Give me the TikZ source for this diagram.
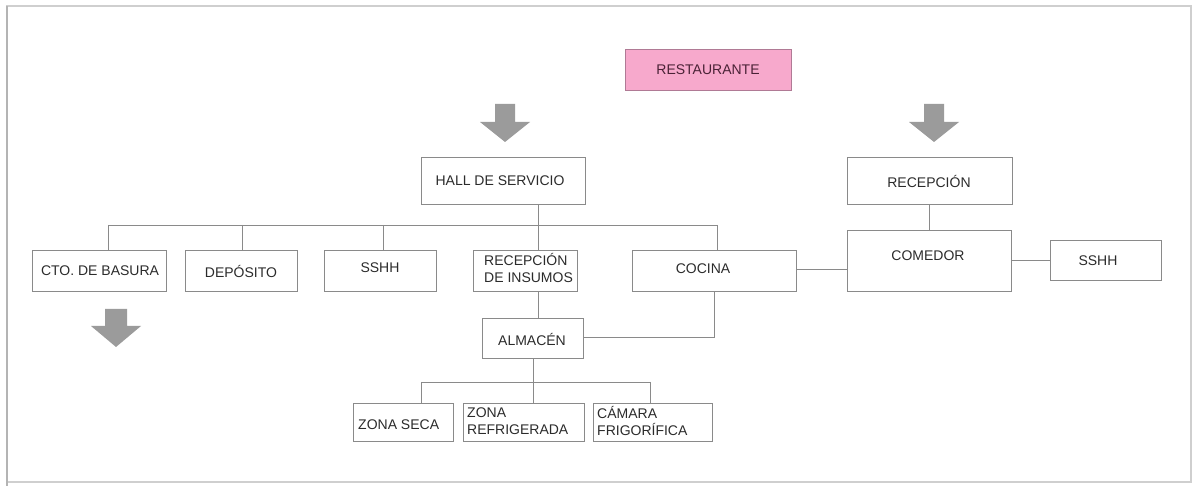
\documentclass[tikz,border=0pt]{standalone}
\usepackage{fontspec}
\setmainfont{Liberation Sans}
\usetikzlibrary{fit}
\definecolor{boxgray}{HTML}{8A8A8A}
\definecolor{linegray}{HTML}{8A8A8A}
\definecolor{txtgray}{HTML}{2B2B2B}
\definecolor{pinkfill}{HTML}{F7A9CC}
\definecolor{pinkdraw}{HTML}{B07A95}
\definecolor{pinktxt}{HTML}{4A2236}
\definecolor{arrowgray}{HTML}{9B9B9B}
\definecolor{framegray}{HTML}{CFCFCF}
\definecolor{frameleft}{HTML}{B4B4B4}
\begin{document}
\begin{tikzpicture}[x=1pt,y=-1pt,
  box/.style={draw=boxgray, line width=0.8pt, inner sep=0pt},
  conn/.style={draw=linegray, line width=0.8pt},
  txt/.style={text=txtgray, font=\fontsize{14}{17}\selectfont, inner sep=0pt, align=left},
  bigarrow/.style={fill=arrowgray}]
\useasboundingbox (0,0) rectangle (1200,486);
% frame
\draw[framegray, line width=1.2pt] (7,482) -- (7,6) -- (1191,6) -- (1191,482) -- cycle;
\draw[frameleft, line width=1.6pt] (7,486) -- (7,6);
% boxes
\node[box, fill=pinkfill, draw=pinkdraw, fit={(625,49) (791,90)}] (rest) {};
\node[box, fit={(421,157) (585,204)}] (hall) {};
\node[box, fit={(847,157) (1012,204)}] (recep) {};
\node[box, fit={(32,250) (166,291)}] (cto) {};
\node[box, fit={(185,250) (297,291)}] (depo) {};
\node[box, fit={(324,250) (436,291)}] (sshha) {};
\node[box, fit={(473,250) (577,291)}] (rins) {};
\node[box, fit={(632,250) (796,291)}] (cocina) {};
\node[box, fit={(847,230) (1011,291)}] (comedor) {};
\node[box, fit={(1050,240) (1161,280)}] (sshhb) {};
\node[box, fit={(482,318) (583,358)}] (alm) {};
\node[box, fit={(353,403) (453,441)}] (zseca) {};
\node[box, fit={(463,403) (584,441)}] (zref) {};
\node[box, fit={(593,403) (712,441)}] (camara) {};
% texts
\node[txt, text=pinktxt] (trest) at (708,70) {RESTAURANTE};
\node[txt] (thall) at (500,181) {HALL DE SERVICIO};
\node[txt] (trecep) at (929,182) {RECEPCIÓN};
\node[txt] (tcto) at (100,271) {CTO. DE BASURA};
\node[txt] (tdepo) at (241,271) {DEPÓSITO};
\node[txt] (tsshha) at (380,268) {SSHH};
\node[txt, anchor=west] (trins) at (484,268) {RECEPCIÓN\\DE INSUMOS};
\node[txt] (tcocina) at (703,269) {COCINA};
\node[txt] (tcomedor) at (928,256) {COMEDOR};
\node[txt] (tsshhb) at (1098,261) {SSHH};
\node[txt] (talm) at (532,339) {ALMACÉN};
\node[txt, anchor=west] (tzseca) at (358,425) {ZONA SECA};
\node[txt, anchor=west] (tzref) at (467,421) {ZONA\\REFRIGERADA};
\node[txt, anchor=west] (tcamara) at (597,421) {CÁMARA\\FRIGORÍFICA};
% big arrows
\fill[bigarrow] (495,104) -- (515,104) -- (515,122) -- (530,122) -- (505,142) -- (480,122) -- (495,122) -- cycle;
\fill[bigarrow] (924,104) -- (944,104) -- (944,122) -- (959,122) -- (934,142) -- (909,122) -- (924,122) -- cycle;
\fill[bigarrow] (105,309) -- (127,309) -- (127,326) -- (141,326) -- (116,347) -- (91,326) -- (105,326) -- cycle;
% junctions
\coordinate (jh) at (538,225);
\coordinate (jcto) at (108,225);
\coordinate (jdepo) at (242,225);
\coordinate (jsshha) at (383,225);
\coordinate (jcoc) at (717,225);
\coordinate (jrc) at (929,225);
\coordinate (jac) at (714,337);
\coordinate (ja) at (533,382);
\coordinate (jzs) at (421,382);
\coordinate (jzc) at (650,382);
% connectors
\draw[conn] (hall.south -| jh) -- (jh);
\draw[conn] (jcto) -- (jcoc);
\draw[conn] (jcto) -- (jcto |- cto.north);
\draw[conn] (jdepo) -- (jdepo |- depo.north);
\draw[conn] (jsshha) -- (jsshha |- sshha.north);
\draw[conn] (jh) -- (jh |- rins.north);
\draw[conn] (jcoc) -- (jcoc |- cocina.north);
\draw[conn] (recep.south -| jrc) -- (comedor.north -| jrc);
\draw[conn] (cocina.east |- 0,269) -- (comedor.west |- 0,269);
\draw[conn] (comedor.east |- sshhb.west) -- (sshhb.west);
\draw[conn] (rins.south -| jh) -- (alm.north -| jh);
\draw[conn] (alm.east |- jac) -- (jac) -- (jac |- cocina.south);
\draw[conn] (alm.south -| ja) -- (ja);
\draw[conn] (jzs) -- (jzc);
\draw[conn] (jzs) -- (jzs |- zseca.north);
\draw[conn] (ja) -- (ja |- zref.north);
\draw[conn] (jzc) -- (jzc |- camara.north);
\end{tikzpicture}
\end{document}
